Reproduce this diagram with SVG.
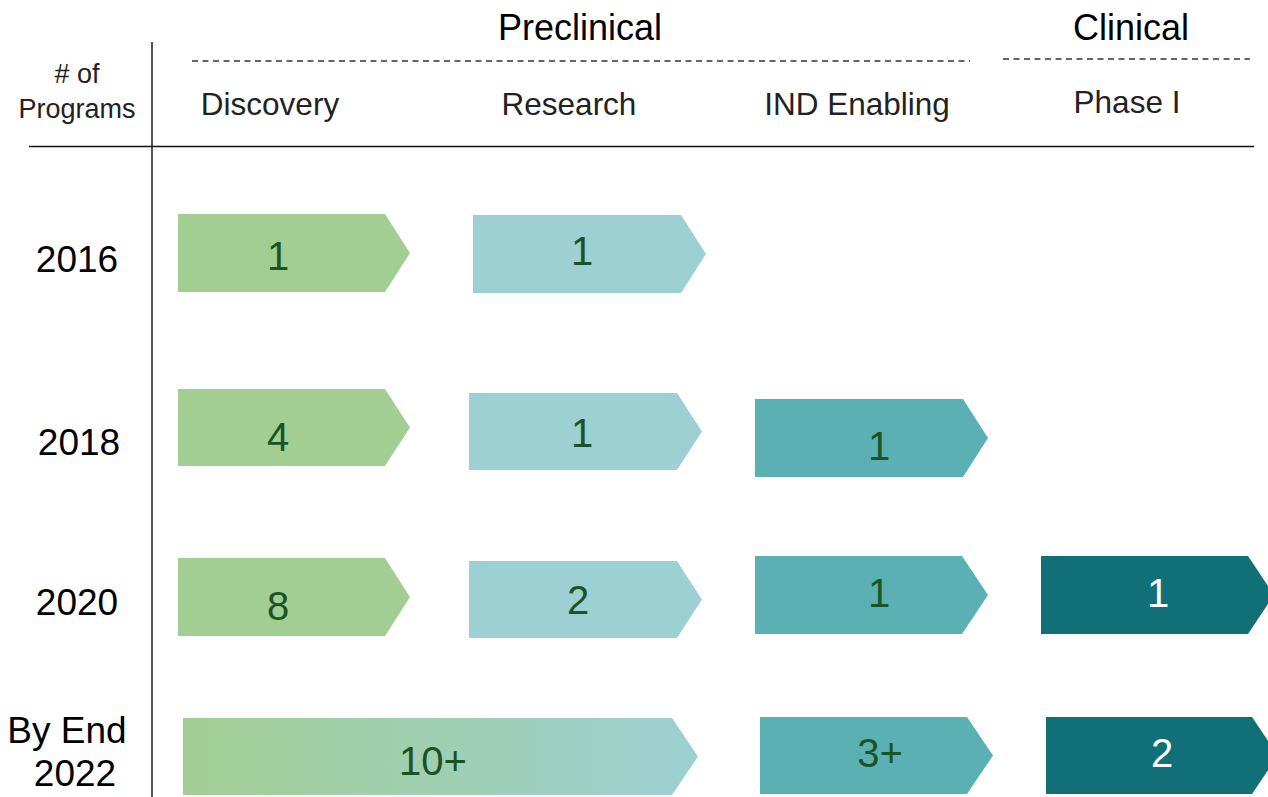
<svg xmlns="http://www.w3.org/2000/svg" width="1268" height="797" viewBox="0 0 1268 797">
<style>
.t{font-family:"Liberation Sans",Arial,sans-serif;fill:#000;text-anchor:middle}
.hd{font-size:31.5px;fill:#222}
.yr{font-size:37px}
.n{font-family:"Liberation Sans",Arial,sans-serif;font-size:40px;fill:#1B5424;text-anchor:middle}
.w{fill:#fff}
.g{fill:#A2CE93}
.lt{fill:#9CD0D2}
.mt{fill:#5BB0B4}
.dt{fill:#106F77}
.dash{stroke:#333;stroke-width:1.5;stroke-dasharray:6 4.5;fill:none}
</style>
<defs>
<linearGradient id="grad" x1="0" y1="0" x2="1" y2="0">
<stop offset="0" stop-color="#A2CE93"/>
<stop offset="1" stop-color="#9CD0D2"/>
</linearGradient>
</defs>
<g id="frame">
<line x1="152" y1="42" x2="152" y2="797" stroke="#555" stroke-width="2"/>
<line x1="29" y1="146.5" x2="1254" y2="146.5" stroke="#111" stroke-width="1.5"/>
<line class="dash" x1="192" y1="61" x2="970" y2="61"/>
<line class="dash" x1="1003" y1="59" x2="1250" y2="59"/>
</g>
<g id="headers">
<text class="t" x="580" y="40" style="font-size:36px">Preclinical</text>
<text class="t" x="1131" y="40" style="font-size:36px">Clinical</text>
<text class="t" x="77" y="83" style="font-size:27px;fill:#222"># of</text>
<text class="t" x="77" y="118" style="font-size:27px;fill:#222">Programs</text>
<text class="t hd" x="270" y="115">Discovery</text>
<text class="t hd" x="569" y="115">Research</text>
<text class="t hd" x="857" y="115">IND Enabling</text>
<text class="t hd" x="1127" y="113">Phase I</text>
</g>
<g id="years">
<text class="t yr" x="77" y="272">2016</text>
<text class="t yr" x="79" y="455">2018</text>
<text class="t yr" x="77" y="615">2020</text>
<text class="t yr" x="67" y="743">By End</text>
<text class="t yr" x="75" y="786">2022</text>
</g>
<g id="row2016">
<g id="r2016-discovery"><polygon class="g" points="178,214 385,214 410,253 385,292 178,292"/><text class="n" x="278" y="270">1</text></g>
<g id="r2016-research"><polygon class="lt" points="473,215 681,215 706,254 681,293 473,293"/><text class="n" x="582" y="265">1</text></g>
</g>
<g id="row2018">
<g id="r2018-discovery"><polygon class="g" points="178,389 385,389 410,427.5 385,466 178,466"/><text class="n" x="278" y="451">4</text></g>
<g id="r2018-research"><polygon class="lt" points="469,393 677,393 702,431.5 677,470 469,470"/><text class="n" x="582" y="447">1</text></g>
<g id="r2018-ind"><polygon class="mt" points="755,399 963,399 988,438 963,477 755,477"/><text class="n" x="879" y="460">1</text></g>
</g>
<g id="row2020">
<g id="r2020-discovery"><polygon class="g" points="178,558 385,558 410,597 385,636 178,636"/><text class="n" x="278" y="620">8</text></g>
<g id="r2020-research"><polygon class="lt" points="469,561 677,561 702,599.5 677,638 469,638"/><text class="n" x="578" y="614">2</text></g>
<g id="r2020-ind"><polygon class="mt" points="755,556 962,556 988,595 962,634 755,634"/><text class="n" x="879" y="607">1</text></g>
<g id="r2020-phase1"><polygon class="dt" points="1041,556 1248,556 1274,595 1248,634 1041,634"/><text class="n w" x="1158" y="607">1</text></g>
</g>
<g id="row2022">
<g id="r2022-preclinical"><polygon fill="url(#grad)" points="183,718 672,718 698,756.5 672,795 183,795"/><text class="n" x="433" y="775">10+</text></g>
<g id="r2022-ind"><polygon class="mt" points="760,717 967,717 993,755.5 967,794 760,794"/><text class="n" x="880" y="767">3+</text></g>
<g id="r2022-phase1"><polygon class="dt" points="1046,717 1252,717 1278,755.5 1252,794 1046,794"/><text class="n w" x="1162" y="767">2</text></g>
</g>
</svg>
